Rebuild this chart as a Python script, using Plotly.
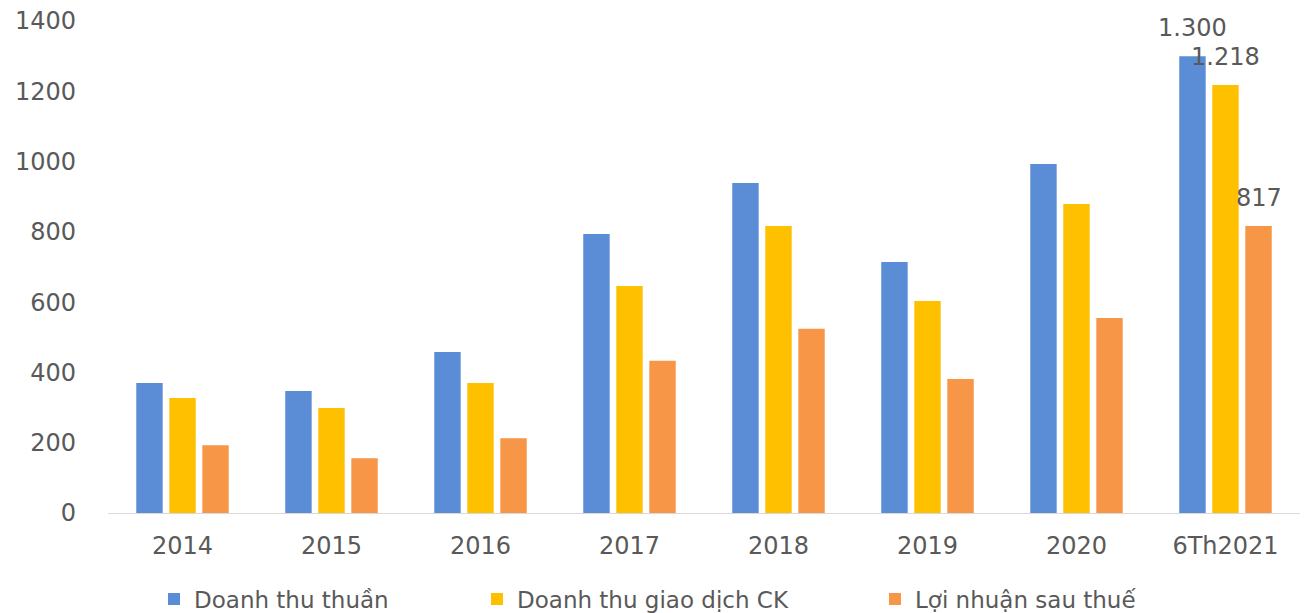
import plotly.graph_objects as go

categories = ["2014", "2015", "2016", "2017", "2018", "2019", "2020", "6Th2021"]
doanh_thu_thuan = [370, 347, 458, 794, 939, 714, 993, 1300]
doanh_thu_gd_ck = [327, 299, 370, 646, 817, 603, 879, 1218]
loi_nhuan = [193, 156, 213, 433, 524, 381, 555, 817]
series_names = ["Doanh thu thuần", "Doanh thu giao dịch CK", "Lợi nhuận sau thuế"]
colors = ["#5A8DD6", "#FFC000", "#F79646"]
last_labels = ["1.300", "1.218", "817"]

FONT = "DejaVu Sans"
GRAY = "#595959"

legend_ids = ["legend", "legend2", "legend3"]

fig = go.Figure()
series_vals = [doanh_thu_thuan, doanh_thu_gd_ck, loi_nhuan]
for name, vals, col, lid in zip(series_names, series_vals, colors, legend_ids):
    fig.add_trace(go.Bar(x=categories, y=vals, name=name, legend=lid,
                         marker=dict(color=col, line=dict(width=0))))

shifts = [-33, 0, 33]
for lab, vals, sh in zip(last_labels, series_vals, shifts):
    fig.add_annotation(x=categories[-1], y=vals[-1], text=lab, showarrow=False,
                       xshift=sh, yshift=28, yanchor="middle",
                       font=dict(family=FONT, size=24, color=GRAY))

legend_common = dict(orientation="h", y=-0.175, yanchor="middle", xanchor="left",
                     xref="paper", font=dict(family=FONT, size=23, color=GRAY),
                     itemwidth=30, bgcolor="rgba(0,0,0,0)")

# page adds 8px body margin; plot area spans 108..1300 x 21..513 on screen
fig.update_layout(
    width=1300, height=605,
    paper_bgcolor="white", plot_bgcolor="white",
    margin=dict(l=100, r=8, t=13, b=100, autoexpand=False),
    barmode="group", bargap=0.335, bargroupgap=0.2,
    font=dict(family=FONT, size=24, color=GRAY),
    showlegend=True,
    legend=dict(x=(166 - 108 - 12) / 1192, **legend_common),
    legend2=dict(x=(489 - 108 - 12) / 1192, **legend_common),
    legend3=dict(x=(887 - 108 - 12) / 1192, **legend_common),
)
fig.update_xaxes(showline=True, linecolor="#D9D9D9", linewidth=1, showgrid=False,
                 ticks="", ticklabelstandoff=11, automargin=False,
                 tickfont=dict(size=24, color=GRAY))
fig.update_yaxes(range=[0, 1400], dtick=200, showgrid=False, zeroline=False,
                 showline=False, ticks="", ticklabelstandoff=31, automargin=False,
                 ticklabeloverflow="allow",
                 tickfont=dict(size=24, color=GRAY))

fig.write_html("out.html")
